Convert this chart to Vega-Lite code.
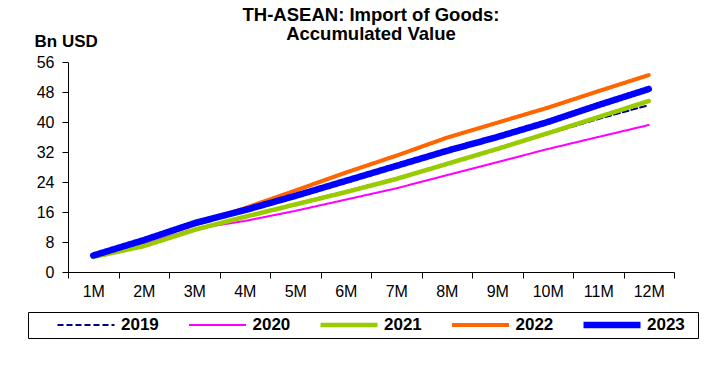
{
  "$schema": "https://vega.github.io/schema/vega-lite/v6.json",
  "autosize": "none",
  "width": 606,
  "height": 210,
  "padding": {"left": 68, "top": 62, "right": 38, "bottom": 93},
  "background": "white",
  "title": {
    "text": ["TH-ASEAN: Import of Goods:", "Accumulated Value"],
    "font": "Liberation Sans",
    "fontSize": 18.5,
    "fontWeight": "bold",
    "color": "black",
    "anchor": "middle",
    "lineHeight": 19,
    "offset": 8,
    "dy": 19
  },
  "data": {
    "values": [
      {"month": 1, "year": "2019", "value": 4.0},
      {"month": 2, "year": "2019", "value": 7.3},
      {"month": 3, "year": "2019", "value": 11.2},
      {"month": 4, "year": "2019", "value": 14.7},
      {"month": 5, "year": "2019", "value": 18.2},
      {"month": 6, "year": "2019", "value": 21.5},
      {"month": 7, "year": "2019", "value": 25.0},
      {"month": 8, "year": "2019", "value": 28.8},
      {"month": 9, "year": "2019", "value": 32.8},
      {"month": 10, "year": "2019", "value": 36.8},
      {"month": 11, "year": "2019", "value": 40.8},
      {"month": 12, "year": "2019", "value": 44.5},
      {"month": 1, "year": "2020", "value": 4.0},
      {"month": 2, "year": "2020", "value": 7.5},
      {"month": 3, "year": "2020", "value": 11.5},
      {"month": 4, "year": "2020", "value": 13.6},
      {"month": 5, "year": "2020", "value": 16.3},
      {"month": 6, "year": "2020", "value": 19.3},
      {"month": 7, "year": "2020", "value": 22.3},
      {"month": 8, "year": "2020", "value": 25.8},
      {"month": 9, "year": "2020", "value": 29.3},
      {"month": 10, "year": "2020", "value": 32.8},
      {"month": 11, "year": "2020", "value": 36.0},
      {"month": 12, "year": "2020", "value": 39.2},
      {"month": 1, "year": "2021", "value": 4.0},
      {"month": 2, "year": "2021", "value": 6.9},
      {"month": 3, "year": "2021", "value": 11.2},
      {"month": 4, "year": "2021", "value": 14.7},
      {"month": 5, "year": "2021", "value": 18.0},
      {"month": 6, "year": "2021", "value": 21.3},
      {"month": 7, "year": "2021", "value": 24.8},
      {"month": 8, "year": "2021", "value": 28.8},
      {"month": 9, "year": "2021", "value": 32.8},
      {"month": 10, "year": "2021", "value": 37.0},
      {"month": 11, "year": "2021", "value": 41.3},
      {"month": 12, "year": "2021", "value": 45.6},
      {"month": 1, "year": "2022", "value": 4.3},
      {"month": 2, "year": "2022", "value": 8.3},
      {"month": 3, "year": "2022", "value": 12.6},
      {"month": 4, "year": "2022", "value": 17.0},
      {"month": 5, "year": "2022", "value": 21.7},
      {"month": 6, "year": "2022", "value": 26.5},
      {"month": 7, "year": "2022", "value": 31.0},
      {"month": 8, "year": "2022", "value": 35.8},
      {"month": 9, "year": "2022", "value": 39.8},
      {"month": 10, "year": "2022", "value": 43.8},
      {"month": 11, "year": "2022", "value": 48.2},
      {"month": 12, "year": "2022", "value": 52.5},
      {"month": 1, "year": "2023", "value": 4.4},
      {"month": 2, "year": "2023", "value": 8.5},
      {"month": 3, "year": "2023", "value": 13.0},
      {"month": 4, "year": "2023", "value": 16.5},
      {"month": 5, "year": "2023", "value": 20.3},
      {"month": 6, "year": "2023", "value": 24.3},
      {"month": 7, "year": "2023", "value": 28.3},
      {"month": 8, "year": "2023", "value": 32.3},
      {"month": 9, "year": "2023", "value": 36.0},
      {"month": 10, "year": "2023", "value": 40.0},
      {"month": 11, "year": "2023", "value": 44.5},
      {"month": 12, "year": "2023", "value": 48.8}
    ]
  },
  "mark": {"type": "line", "strokeCap": "round", "strokeJoin": "round", "clip": false},
  "encoding": {
    "x": {
      "field": "month",
      "type": "quantitative",
      "scale": {"domain": [0.5, 12.5], "nice": false, "zero": false},
      "axis": {
        "title": null,
        "values": [0.5, 1.5, 2.5, 3.5, 4.5, 5.5, 6.5, 7.5, 8.5, 9.5, 10.5, 11.5, 12.5],
        "labelExpr": "datum.value > 12 ? '' : (datum.value + 0.5) + 'M'",
        "labelOffset": 25.25,
        "labelOverlap": false,
        "labelFlush": false,
        "labelBound": false,
        "labelFont": "Liberation Sans",
        "labelFontSize": 16,
        "labelColor": "black",
        "labelPadding": 5,
        "tickSize": 6,
        "tickColor": "black",
        "domainColor": "black",
        "grid": false
      }
    },
    "y": {
      "field": "value",
      "type": "quantitative",
      "scale": {"domain": [0, 56], "nice": false},
      "axis": {
        "title": "Bn USD",
        "titleAngle": 0,
        "titleAlign": "left",
        "titleBaseline": "alphabetic",
        "titleX": -34,
        "titleY": -16,
        "titleFont": "Liberation Sans",
        "titleFontSize": 17,
        "titleFontWeight": "bold",
        "titleColor": "black",
        "values": [0, 8, 16, 24, 32, 40, 48, 56],
        "labelFont": "Liberation Sans",
        "labelFontSize": 16,
        "labelColor": "black",
        "labelPadding": 8,
        "tickSize": 6,
        "tickColor": "black",
        "domainColor": "black",
        "grid": false
      }
    },
    "color": {
      "field": "year",
      "type": "nominal",
      "scale": {
        "domain": ["2019", "2020", "2021", "2022", "2023"],
        "range": ["#000080", "#FF00FF", "#99CC00", "#FF6600", "#0000FF"]
      },
      "legend": {
        "title": "\u00a0",
        "titleOrient": "right",
        "titlePadding": 8,
        "titleFontSize": 12,
        "orient": "none",
        "legendX": -40,
        "legendY": 250,
        "direction": "horizontal",
        "columns": 5,
        "symbolType": "stroke",
        "symbolSize": 3249,
        "symbolOffset": 21,
        "labelOffset": 3,
        "columnPadding": 5.5,
        "clipHeight": 16,
        "labelFont": "Liberation Sans",
        "labelFontSize": 17,
        "labelFontWeight": "bold",
        "labelColor": "black",
        "strokeColor": "black",
        "padding": 5
      }
    },
    "strokeWidth": {
      "field": "year",
      "type": "nominal",
      "scale": {
        "type": "ordinal",
        "domain": ["2019", "2020", "2021", "2022", "2023"],
        "range": [2, 2, 4.5, 4, 6.5]
      },
      "legend": null
    },
    "strokeDash": {
      "field": "year",
      "type": "nominal",
      "scale": {
        "domain": ["2019", "2020", "2021", "2022", "2023"],
        "range": [[6, 3], [1, 0], [1, 0], [1, 0], [1, 0]]
      },
      "legend": null
    }
  },
  "config": {"view": {"stroke": null}}
}
